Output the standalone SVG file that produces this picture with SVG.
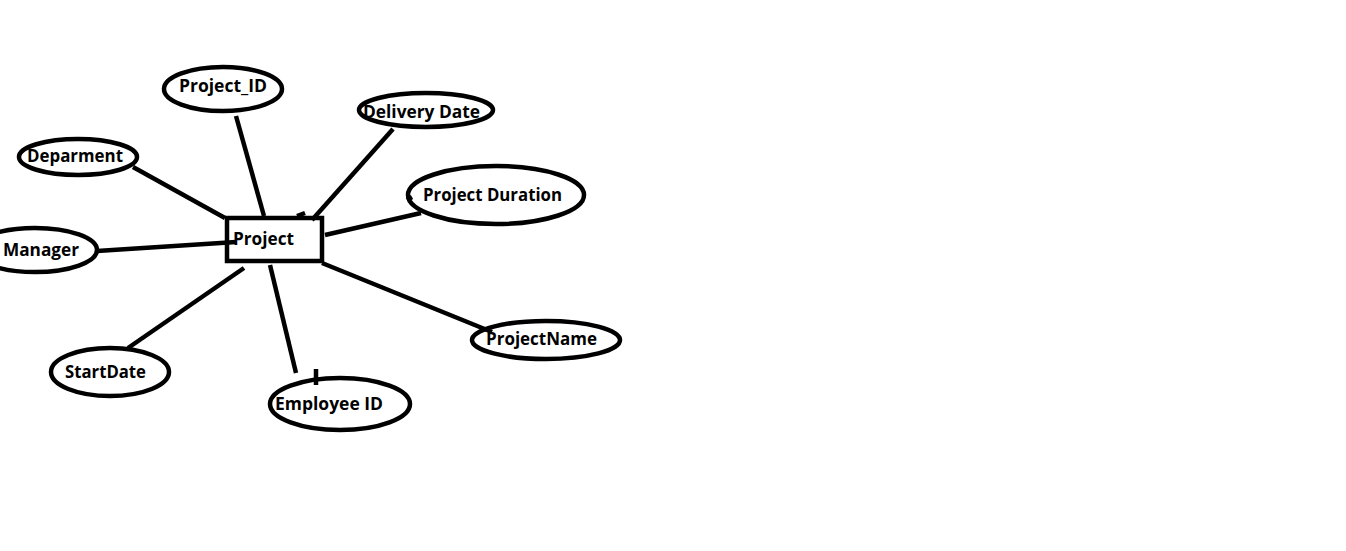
<svg xmlns="http://www.w3.org/2000/svg" width="1346" height="551" viewBox="0 0 1346 551">
<style>
.shape{fill:none;stroke:#000;stroke-width:4.5}
.conn{stroke:#000;stroke-width:4.5;stroke-linecap:butt;fill:none}
.lbl{font-family:"Open Sans","Noto Sans","Liberation Sans",sans-serif;font-weight:bold;font-size:18px;fill:#000}
</style>
<rect width="1346" height="551" fill="#fff"/>
<g id="connectors">
<line class="conn" x1="236" y1="116" x2="264" y2="216"/>
<line class="conn" x1="133" y1="167" x2="225" y2="218"/>
<line class="conn" x1="97" y1="251" x2="236" y2="242"/>
<line class="conn" x1="393" y1="129" x2="312" y2="220"/>
<line class="conn" x1="325" y1="235" x2="421" y2="213"/>
<line class="conn" x1="322" y1="263" x2="492" y2="332"/>
<line class="conn" x1="244" y1="268" x2="128" y2="348"/>
<line class="conn" x1="296" y1="373" x2="270" y2="265"/>
<path class="conn" d="M316 369 L316 385" stroke-width="4"/>
<path class="conn" d="M407 200 L412 197" stroke-width="4"/>
<path class="conn" d="M297 216 L305 213" stroke-width="3"/>
</g>
<g id="node-project">
<rect class="shape" x="227" y="218" width="95" height="43"/>
<text class="lbl" x="233" y="245" textLength="61" lengthAdjust="spacingAndGlyphs">Project</text>
</g>
<g id="node-project-id">
<ellipse class="shape" cx="223" cy="89" rx="59" ry="22"/>
<text class="lbl" x="179" y="92" textLength="88" lengthAdjust="spacingAndGlyphs">Project_ID</text>
</g>
<g id="node-deparment">
<ellipse class="shape" cx="78" cy="157" rx="59" ry="18"/>
<text class="lbl" x="27" y="162" textLength="96" lengthAdjust="spacingAndGlyphs">Deparment</text>
</g>
<g id="node-manager">
<ellipse class="shape" cx="35" cy="250" rx="62" ry="22"/>
<text class="lbl" x="3" y="256" textLength="76" lengthAdjust="spacingAndGlyphs">Manager</text>
</g>
<g id="node-delivery-date">
<ellipse class="shape" cx="426" cy="110" rx="67" ry="17"/>
<text class="lbl" x="363" y="118" textLength="117" lengthAdjust="spacingAndGlyphs">Delivery Date</text>
</g>
<g id="node-project-duration">
<ellipse class="shape" cx="496" cy="195" rx="88" ry="29"/>
<text class="lbl" x="423" y="201" textLength="139" lengthAdjust="spacingAndGlyphs">Project Duration</text>
</g>
<g id="node-projectname">
<ellipse class="shape" cx="546" cy="340" rx="74" ry="19"/>
<text class="lbl" x="486" y="345" textLength="111" lengthAdjust="spacingAndGlyphs">ProjectName</text>
</g>
<g id="node-startdate">
<ellipse class="shape" cx="110" cy="372" rx="59" ry="24"/>
<text class="lbl" x="65" y="378" textLength="81" lengthAdjust="spacingAndGlyphs">StartDate</text>
</g>
<g id="node-employee-id">
<ellipse class="shape" cx="340" cy="404" rx="70" ry="26"/>
<text class="lbl" x="275" y="410" textLength="108" lengthAdjust="spacingAndGlyphs">Employee ID</text>
</g>
</svg>
